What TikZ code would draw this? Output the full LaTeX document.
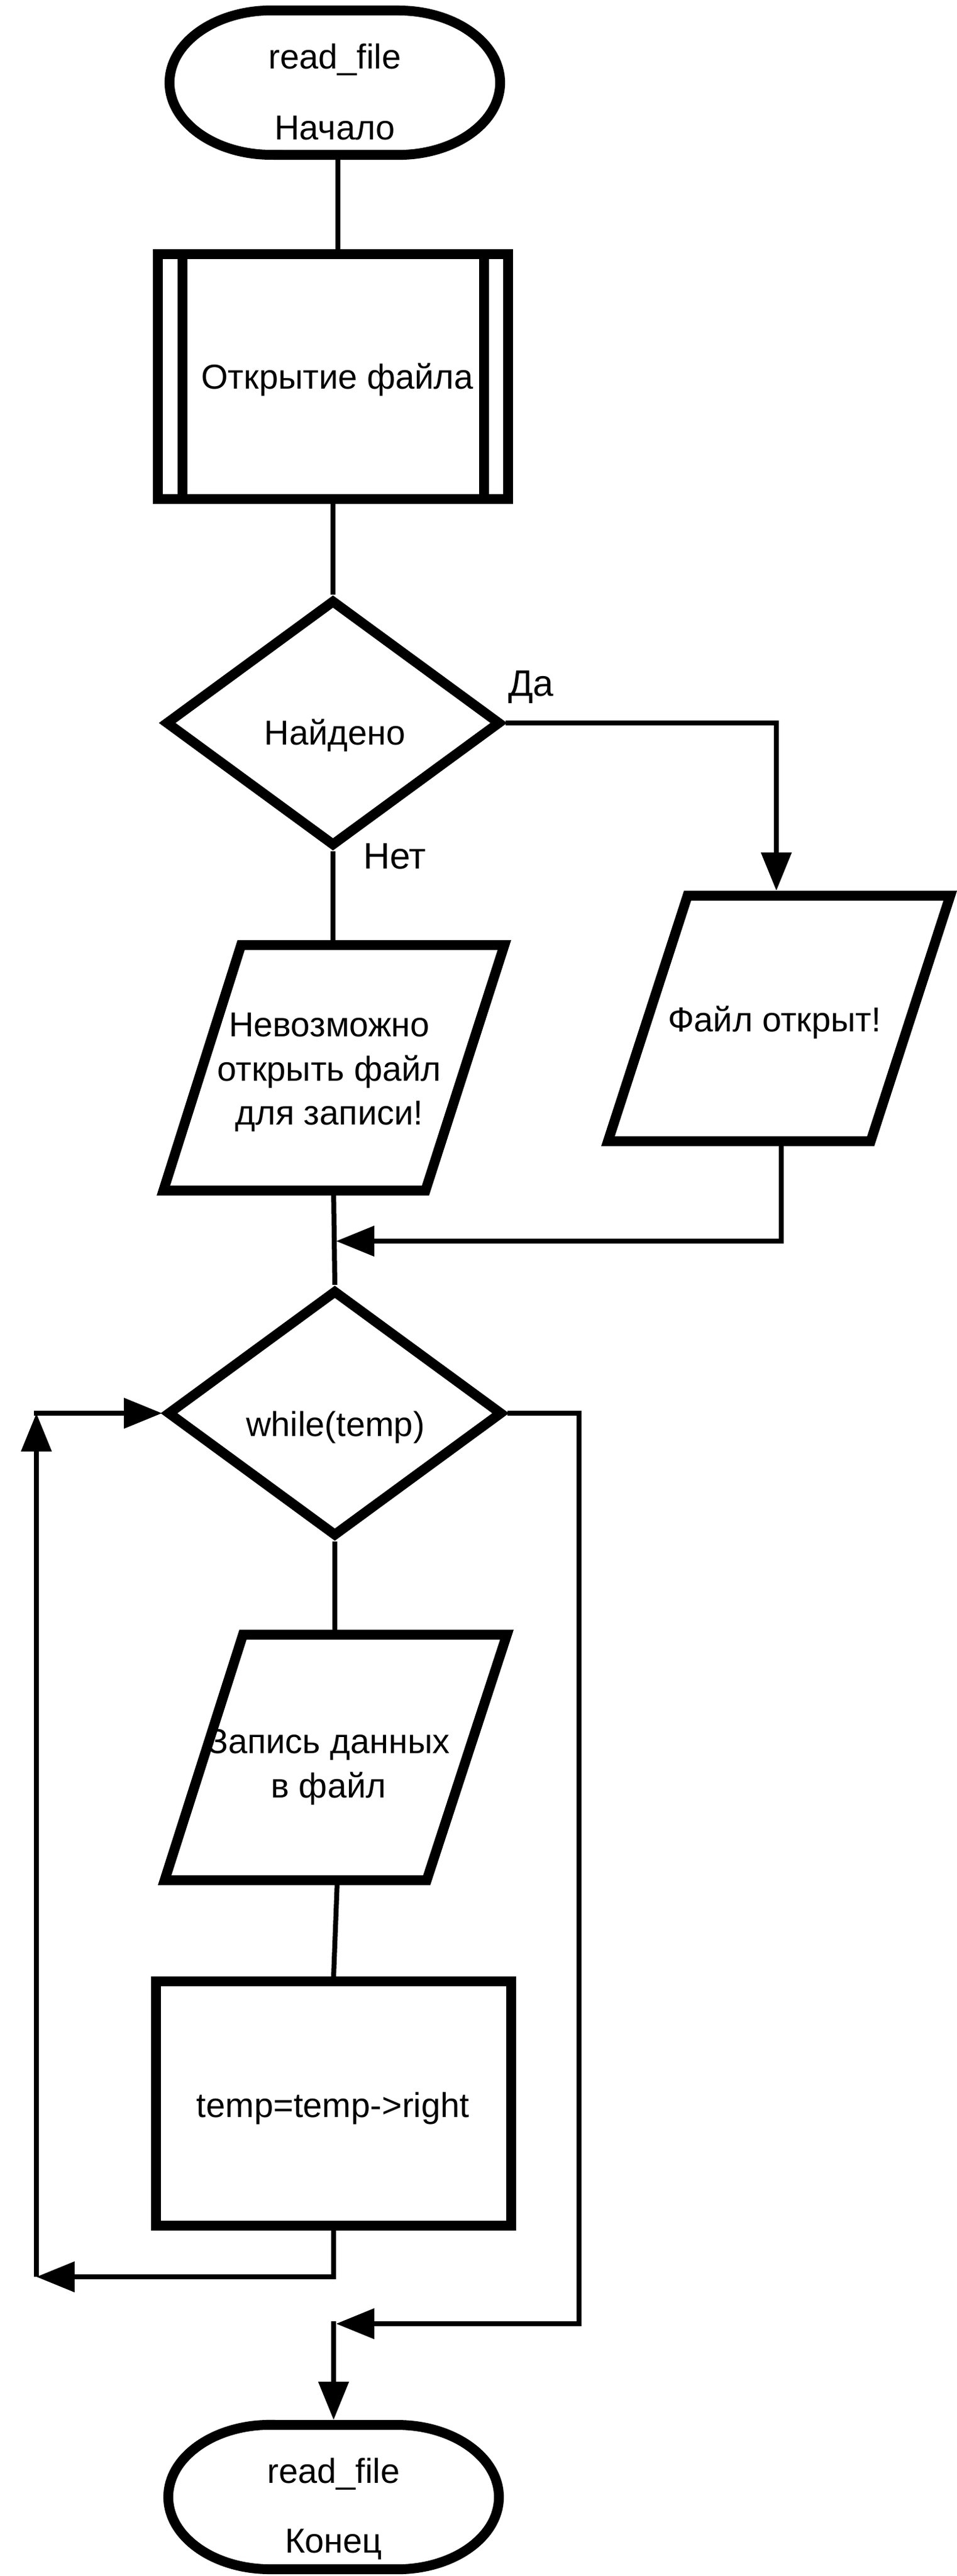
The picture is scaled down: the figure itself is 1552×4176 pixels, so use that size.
\documentclass[tikz,border=0pt]{standalone}
\usepackage{fontspec}
\setmainfont{Liberation Sans}
\usetikzlibrary{arrows.meta,shapes.geometric}
\begin{document}
\begin{tikzpicture}[x=0.01cm,y=-0.01cm,
  shp/.style={draw, line width=0.16cm, line join=miter},
  conn/.style={draw, line width=0.08cm},
  arr/.style={conn, -{Triangle[length=0.62cm,width=0.48cm]}},
  dec/.style={shp, diamond, minimum width=5.44cm, minimum height=4.0cm, inner sep=0},
  txt/.style={inner sep=0, anchor=base, font=\fontsize{15.93pt}{19pt}\selectfont},
  lbl/.style={inner sep=0, anchor=base, font=\fontsize{17pt}{20pt}\selectfont}]
\useasboundingbox (0,0) rectangle (1552,4176);

% start terminal
\draw[shp] (440,17) -- (646,17) arc[start angle=90,end angle=-90,x radius=1.65cm,y radius=1.17cm]
  -- (440,251) arc[start angle=270,end angle=90,x radius=1.65cm,y radius=1.17cm] -- cycle;
\node[txt] (t1a) at (543,112) {read\_file};
\node[txt] (t1b) at (543,227) {Начало};

% subroutine box
\node[shp, rectangle, minimum width=5.68cm, minimum height=3.97cm, inner sep=0] (box) at (540,610.5) {};
\draw[shp] (296,412) -- (296,809);
\draw[shp] (785,412) -- (785,809);
\node[txt] (boxt) at (547,631) {Открытие файла};

% decision 1
\node[dec] (d1) at (540,1172) {};
\node[txt] (d1t) at (543,1207) {Найдено};
\node[lbl] (yes) at (861,1128) {Да};
\node[lbl] (no) at (640,1408) {Нет};

% parallelogram 1
\draw[shp] (391,1532) -- (818,1532) -- (690,1930) -- (265,1930) -- cycle;
\node[txt] (p1a) at (534,1680) {Невозможно};
\node[txt] (p1b) at (534,1752) {открыть файл};
\node[txt] (p1c) at (534,1823) {для записи!};

% parallelogram 2
\draw[shp] (1115,1452) -- (1541,1452) -- (1412,1850) -- (986,1850) -- cycle;
\node[txt] (p2t) at (1256,1672) {Файл открыт!};

% decision 2
\node[dec] (d2) at (543,2291) {};
\node[txt] (d2t) at (544,2328) {while(temp)};

% parallelogram 3
\draw[shp] (394,2650) -- (822,2650) -- (692,3048) -- (267,3048) -- cycle;
\node[txt] (p3a) at (533,2842) {Запись данных};
\node[txt] (p3b) at (533,2914) {в файл};

% process
\node[shp, rectangle, minimum width=5.76cm, minimum height=3.96cm, inner sep=0] (rect) at (541,3410) {};
\node[txt] (rt) at (540,3432) {temp=temp->right};

% end terminal
\draw[shp] (438,3931) -- (644,3931) arc[start angle=90,end angle=-90,x radius=1.65cm,y radius=1.17cm]
  -- (438,4165) arc[start angle=270,end angle=90,x radius=1.65cm,y radius=1.17cm] -- cycle;
\node[txt] (t2a) at (541,4025) {read\_file};
\node[txt] (t2b) at (541,4138) {Конец};

% coordinates
\coordinate (sts) at (548,251);
\coordinate (p2n) at (1259,1444);
\coordinate (p1n) at (540,1524);
\coordinate (p1s) at (541,1930);
\coordinate (p2s) at (1267,1850);
\coordinate (m1) at (545,2012);
\coordinate (p3n) at (543,2642);
\coordinate (p3s) at (547,3048);
\coordinate (c1) at (59,3691);
\coordinate (c2) at (59,2291);
\coordinate (c2a) at (55,2291);
\coordinate (r1) at (939,3767);
\coordinate (m2) at (545,3767);
\coordinate (m2a) at (541,3763);
\coordinate (etn) at (541,3923);

% connectors
\draw[conn] (sts) -- (sts |- box.north);
\draw[conn] (box.south) -- (d1.north);
\draw[arr] (d1.east) -| (p2n);
\draw[conn] (d1.south) -- (p1n);
\draw[conn] (p1s) -- (d2.north);
\draw[arr] (p2s) |- (m1);
\draw[conn] (d2.south) -- (p3n);
\draw[conn] (p3s) -- (rect.north);
\draw[arr] (rect.south) |- (c1);
\draw[arr] (c1) -- (c2);
\draw[arr] (c2a) -- (d2.west);
\draw[arr] (d2.east) -| (r1) -- (m2);
\draw[arr] (m2a) -- (etn);
\end{tikzpicture}
\end{document}
